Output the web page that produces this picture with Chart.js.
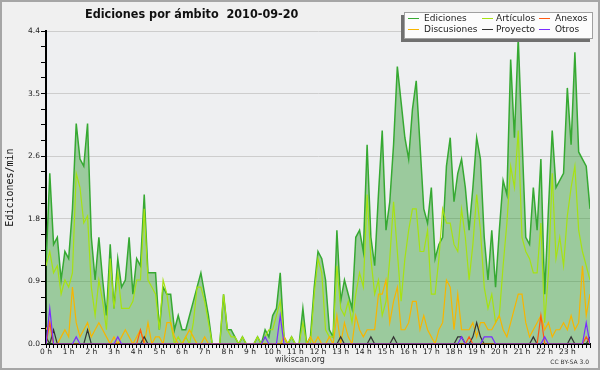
<!DOCTYPE html>
<html>
<head>
<meta charset="utf-8">
<title>Ediciones por ámbito 2010-09-20</title>
<script src="https://cdn.jsdelivr.net/npm/chart.js@4.4.0/dist/chart.umd.min.js"></script>
<style>
  body { margin: 0; background: #fff; }
  #wrap { position: relative; width: 600px; height: 370px; }
  #grafico { position: absolute; left: 0; top: 0; }
  #titulo {
    position: absolute; left: 85px; top: 6px; line-height: 13px;
    font: bold 12.5px "DejaVu Sans"; font-stretch: condensed;
    color: #111; white-space: nowrap;
  }
  #leyenda {
    position: absolute; left: 404px; top: 12px; width: 187px; height: 25px;
    background: #fcfcfc; border: 1px solid #a0a0a0;
    box-shadow: -3px 3px 0 #707070;
    font: 9px "DejaVu Sans"; color: #222;
  }
  .item { position: absolute; white-space: nowrap; line-height: 11px; }
  .muestra { position: absolute; height: 1px; width: 11px; }
  #sitio {
    position: absolute; left: 0; width: 600px; top: 355px; text-align: center;
    font: 8px "DejaVu Sans"; line-height: 10px; color: #333;
  }
  #licencia {
    position: absolute; right: 11px; top: 358px;
    font: 6px "DejaVu Sans"; line-height: 8px; color: #333;
  }
</style>
</head>
<body>
<div id="wrap">
  <canvas id="grafico" width="600" height="370"></canvas>
  <div id="titulo">Ediciones por ámbito&nbsp;&nbsp;2010-09-20</div>
  <div id="leyenda"></div>
  <div id="sitio">wikiscan.org</div>
  <div id="licencia">CC BY-SA 3.0</div>
</div>
<script>
// one value every 10 minutes, 0 h .. 24 h
const ediciones = [
  1.1, 2.4, 1.4, 1.5, 0.9, 1.3, 1.2, 1.9, 3.1, 2.6, 2.5, 3.1,
  1.5, 0.9, 1.5, 0.9, 0.4, 1.4, 0.5, 1.2, 0.8, 0.9, 1.5, 0.7,
  1.2, 1.1, 2.1, 1.0, 1.0, 1.0, 0.2, 0.8, 0.7, 0.7, 0.2, 0.4,
  0.2, 0.2, 0.4, 0.6, 0.8, 1.0, 0.7, 0.4, 0.0, 0.0, 0.0, 0.7,
  0.2, 0.2, 0.1, 0.0, 0.1, 0.0, 0.0, 0.0, 0.1, 0.0, 0.2, 0.1,
  0.4, 0.5, 1.0, 0.1, 0.0, 0.1, 0.0, 0.0, 0.5, 0.0, 0.1, 0.8,
  1.3, 1.2, 0.9, 0.2, 0.1, 1.6, 0.6, 0.9, 0.7, 0.5, 1.5, 1.6,
  1.3, 2.8, 1.5, 1.1, 2.1, 3.0, 1.6, 2.0, 2.8, 3.9, 3.4, 2.9,
  2.6, 3.3, 3.7, 2.8, 1.9, 1.7, 2.2, 1.2, 1.4, 1.5, 2.5, 2.9,
  2.0, 2.4, 2.6, 2.2, 1.6, 2.2, 2.9, 2.6, 1.5, 0.9, 1.6, 0.8,
  1.6, 2.3, 2.1, 4.0, 2.9, 4.3, 2.9, 1.5, 1.4, 2.2, 1.6, 2.6,
  0.7, 1.9, 3.0, 2.2, 2.3, 2.4, 3.6, 2.8, 4.1, 2.7, 2.6, 2.5,
  1.9
];
const articulos = [
  1.1, 1.3, 1.0, 1.1, 0.7, 0.9, 0.8, 1.0, 2.4, 2.2, 1.7, 1.8,
  0.8, 0.4, 0.9, 0.6, 0.2, 1.2, 0.5, 1.0, 0.5, 0.5, 0.5, 0.6,
  0.9, 0.9, 1.9, 0.9, 0.8, 0.7, 0.2, 0.9, 0.7, 0.3, 0.0, 0.1,
  0.0, 0.1, 0.0, 0.3, 0.8, 0.8, 0.6, 0.3, 0.0, 0.0, 0.0, 0.7,
  0.2, 0.1, 0.1, 0.0, 0.1, 0.0, 0.0, 0.0, 0.1, 0.0, 0.1, 0.2,
  0.2, 0.4, 0.6, 0.1, 0.0, 0.1, 0.0, 0.0, 0.3, 0.0, 0.0, 0.7,
  1.2, 1.0, 0.2, 0.1, 0.1, 1.1, 0.5, 0.4, 0.6, 0.3, 0.7, 1.0,
  0.8, 2.1, 1.2, 0.7, 0.9, 0.4, 0.6, 1.2, 2.0, 1.3, 0.6, 1.2,
  1.6, 1.9, 1.9, 1.3, 1.3, 1.6, 0.7, 0.7, 1.2, 1.9, 1.7, 1.7,
  1.4, 1.3, 1.9, 1.5, 0.9, 1.4, 2.1, 1.6, 0.8, 0.5, 0.7, 0.3,
  0.4, 1.1, 1.7, 2.5, 2.2, 3.0, 1.5, 1.3, 1.2, 1.0, 1.0, 1.7,
  0.3, 1.0, 2.4, 1.2, 1.5, 1.1, 1.8, 2.2, 2.5, 1.6, 1.3, 1.1,
  0.9
];
const anexos = [
  0, 0.3, 0, 0, 0, 0, 0, 0, 0, 0, 0, 0,
  0, 0, 0, 0, 0, 0, 0, 0, 0, 0, 0, 0,
  0, 0.2, 0, 0, 0, 0, 0, 0, 0, 0, 0, 0,
  0, 0, 0, 0, 0, 0, 0, 0, 0, 0, 0, 0,
  0, 0, 0, 0, 0, 0, 0, 0, 0, 0, 0, 0,
  0, 0, 0, 0, 0, 0, 0, 0, 0, 0, 0, 0,
  0, 0, 0, 0, 0, 0, 0, 0, 0, 0, 0, 0,
  0, 0, 0, 0, 0, 0, 0, 0, 0, 0, 0, 0,
  0, 0, 0, 0, 0, 0, 0, 0, 0, 0, 0, 0,
  0, 0, 0, 0, 0.1, 0, 0, 0, 0, 0, 0, 0,
  0, 0, 0, 0, 0, 0, 0, 0, 0, 0, 0, 0.4,
  0, 0, 0, 0, 0, 0, 0, 0, 0, 0, 0, 0.1,
  0
];
const discusiones = [
  0.2, 0.3, 0.0, 0.0, 0.1, 0.2, 0.1, 0.8, 0.3, 0.1, 0.2, 0.3,
  0.1, 0.2, 0.3, 0.2, 0.1, 0.0, 0.1, 0.0, 0.1, 0.2, 0.1, 0.0,
  0.1, 0.2, 0.0, 0.3, 0.0, 0.1, 0.1, 0.0, 0.3, 0.3, 0.1, 0.0,
  0.0, 0.1, 0.2, 0.1, 0.0, 0.0, 0.1, 0.0, 0.0, 0.0, 0.0, 0.0,
  0.0, 0.0, 0.0, 0.0, 0.0, 0.0, 0.0, 0.0, 0.0, 0.0, 0.0, 0.0,
  0.0, 0.0, 0.0, 0.1, 0.0, 0.0, 0.0, 0.0, 0.0, 0.0, 0.1, 0.0,
  0.1, 0.0, 0.0, 0.1, 0.0, 0.4, 0.0, 0.3, 0.1, 0.0, 0.4, 0.2,
  0.1, 0.2, 0.2, 0.2, 0.7, 0.7, 0.9, 0.3, 0.6, 0.8, 0.2, 0.2,
  0.3, 0.6, 0.6, 0.2, 0.4, 0.2, 0.1, 0.0, 0.2, 0.3, 0.9, 0.8,
  0.2, 0.7, 0.2, 0.2, 0.2, 0.3, 0.1, 0.3, 0.3, 0.2, 0.2, 0.3,
  0.4, 0.2, 0.1, 0.3, 0.5, 0.7, 0.7, 0.3, 0.1, 0.2, 0.3, 0.4,
  0.2, 0.3, 0.1, 0.2, 0.2, 0.3, 0.2, 0.4, 0.2, 0.3, 1.1, 0.4,
  0.7
];
const proyecto = [
  0.1, 0, 0.2, 0, 0, 0, 0, 0, 0, 0, 0, 0.2,
  0, 0, 0, 0, 0, 0, 0, 0, 0, 0, 0, 0,
  0, 0, 0.1, 0, 0, 0, 0, 0, 0, 0, 0, 0,
  0, 0, 0, 0, 0, 0, 0, 0, 0, 0, 0, 0,
  0, 0, 0, 0, 0, 0, 0, 0, 0, 0, 0, 0,
  0, 0, 0, 0, 0, 0, 0, 0, 0, 0, 0, 0,
  0, 0, 0, 0, 0, 0, 0.1, 0, 0, 0, 0, 0,
  0, 0, 0.1, 0, 0, 0, 0, 0, 0.1, 0, 0, 0,
  0, 0, 0, 0, 0, 0, 0, 0, 0, 0, 0, 0,
  0, 0.1, 0.1, 0, 0, 0.1, 0.3, 0.1, 0, 0, 0, 0,
  0, 0, 0, 0, 0, 0, 0, 0, 0, 0.1, 0, 0,
  0, 0, 0, 0, 0, 0, 0, 0.1, 0, 0, 0, 0,
  0.1
];
const otros = [
  0, 0.5, 0, 0, 0, 0, 0, 0, 0.1, 0, 0, 0,
  0, 0, 0, 0, 0, 0, 0, 0.1, 0, 0, 0, 0,
  0, 0, 0, 0, 0, 0, 0, 0, 0, 0, 0, 0,
  0, 0, 0, 0, 0, 0, 0, 0, 0, 0, 0, 0,
  0, 0, 0, 0, 0, 0, 0, 0, 0, 0, 0.1, 0,
  0, 0, 0.4, 0, 0, 0, 0, 0, 0, 0, 0, 0,
  0, 0, 0, 0, 0, 0, 0, 0, 0, 0, 0, 0,
  0, 0, 0, 0, 0, 0, 0, 0, 0, 0, 0, 0,
  0, 0, 0, 0, 0, 0, 0, 0, 0, 0, 0, 0,
  0, 0, 0.1, 0, 0, 0, 0, 0, 0.1, 0.1, 0.1, 0,
  0, 0, 0, 0, 0, 0, 0, 0, 0, 0, 0, 0,
  0.1, 0, 0, 0, 0, 0, 0, 0, 0, 0, 0, 0.3,
  0
];

const seriesLabels = ["Ediciones", "Artículos", "Anexos", "Discusiones", "Proyecto", "Otros"];
const seriesValues = [ediciones, articulos, anexos, discusiones, proyecto, otros];
const seriesColors = ["#36a932", "#a6e212", "#ff5a12", "#f7b500", "#333333", "#7a2cff"];
const seriesOrder = [5, 4, 1, 3, 2, 0];

const hourLabels = [
  "0 h", "1 h", "2 h", "3 h", "4 h", "5 h", "6 h", "7 h", "8 h", "9 h", "10 h", "11 h",
  "12 h", "13 h", "14 h", "15 h", "16 h", "17 h", "18 h", "19 h", "20 h", "21 h", "22 h", "23 h"
];
const yTickLabels = ["0.0", "0.9", "1.8", "2.6", "3.5", "4.4"];
const yMax = 4.4;
const stepsPerHour = 6;

// ticks every 10 minutes on x, 4 subdivisions per labelled step on y
const xTicks = [];
for (let k = 0; k <= 24 * stepsPerHour; k++) xTicks.push(k / stepsPerHour);
const yTicks = [];
for (let k = 0; k <= (yTickLabels.length - 1) * 4; k++) yTicks.push(k * yMax / ((yTickLabels.length - 1) * 4));

const datasets = seriesValues.map((vals, s) => ({
  label: seriesLabels[s],
  data: vals.map((v, i) => ({ x: i / stepsPerHour, y: v })),
  borderColor: seriesColors[s],
  borderWidth: s === 0 ? 1.5 : 1.2,
  backgroundColor: s === 0 ? "rgba(40,150,40,0.42)" : seriesColors[s],
  fill: s === 0 ? "origin" : false,
  order: seriesOrder[s],
  pointRadius: 0,
  tension: 0
}));

// legend in the top right box
const leyenda = document.getElementById("leyenda");
const colLine = [3, 77, 134];
const colText = [19, 91, 150];
seriesLabels.forEach((name, s) => {
  const col = s % 3, row = Math.floor(s / 3);
  const m = document.createElement("div");
  m.className = "muestra";
  m.style.left = colLine[col] + "px";
  m.style.top = (row * 11 + 5) + "px";
  m.style.background = seriesColors[s];
  leyenda.appendChild(m);
  const t = document.createElement("div");
  t.className = "item";
  t.style.left = colText[col] + "px";
  t.style.top = (row * 11) + "px";
  t.textContent = name;
  leyenda.appendChild(t);
});

const fondo = {
  id: "fondo",
  beforeDraw(chart) {
    const c = chart.ctx, a = chart.chartArea;
    c.save();
    c.fillStyle = "#f0f0f0";
    c.fillRect(0, 0, chart.width, chart.height);
    c.fillStyle = "#eeeff1";
    c.fillRect(a.left, a.top, a.right - a.left, a.bottom - a.top);
    c.strokeStyle = "#a6a6a6";
    c.lineWidth = 2;
    c.strokeRect(1, 1, chart.width - 2, chart.height - 2);
    c.restore();
  }
};

new Chart(document.getElementById("grafico"), {
  type: "line",
  data: { datasets: datasets },
  options: {
    responsive: false,
    animation: false,
    devicePixelRatio: 1,
    layout: { padding: { top: 31, right: 10, left: 0, bottom: 0 } },
    plugins: { legend: { display: false }, tooltip: { enabled: false } },
    scales: {
      x: {
        type: "linear",
        min: 0,
        max: 24,
        z: 1,
        afterBuildTicks: (axis) => { axis.ticks = xTicks.map((v) => ({ value: v })); },
        afterFit: (axis) => { axis.height = 26; },
        ticks: {
          autoSkip: false,
          maxRotation: 0,
          minRotation: 0,
          padding: 0,
          color: "#222",
          font: { family: "DejaVu Sans", size: 7.5 },
          callback: (v, i) => (i % stepsPerHour === 0 && i / stepsPerHour < hourLabels.length) ? hourLabels[i / stepsPerHour] : ""
        },
        grid: { drawOnChartArea: false, tickLength: 4, tickColor: "#000", tickWidth: 1 },
        border: { color: "#000", width: 2 }
      },
      y: {
        min: 0,
        max: yMax,
        afterBuildTicks: (axis) => { axis.ticks = yTicks.map((v) => ({ value: v })); },
        afterFit: (axis) => { axis.width = 46; },
        ticks: {
          autoSkip: false,
          padding: 1,
          color: "#222",
          font: { family: "DejaVu Sans", size: 7.5 },
          callback: (v, i) => (i % 4 === 0) ? yTickLabels[i / 4] : ""
        },
        grid: {
          color: (c) => (c.index % 4 === 0 ? "#cdcdcd" : "rgba(0,0,0,0)"),
          tickColor: "#000",
          tickLength: 5
        },
        border: { color: "#000", width: 2 },
        title: {
          display: true,
          text: "Ediciones/min",
          color: "#111",
          font: { family: "DejaVu Sans Mono", size: 10 },
          padding: { top: 4, bottom: 0 }
        }
      }
    }
  },
  plugins: [fondo]
});
</script>
</body>
</html>
